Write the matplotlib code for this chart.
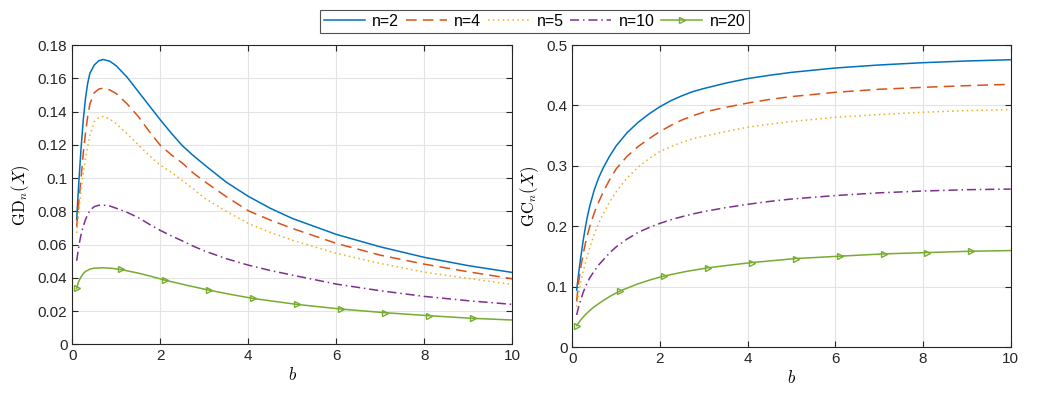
import numpy as np
import matplotlib
matplotlib.use('Agg')
import matplotlib.pyplot as plt
from matplotlib.ticker import FormatStrFormatter

plt.rcParams['font.family'] = ['Liberation Sans', 'DejaVu Sans']
plt.rcParams['mathtext.fontset'] = 'cm'

# b values
b = [0.1, 0.125, 0.15, 0.175, 0.2, 0.25, 0.3, 0.35, 0.4, 0.5, 0.6, 0.7, 0.85, 1.0, 1.25, 1.5, 1.75,
     2, 2.25, 2.5, 2.75, 3, 3.5, 4, 4.5, 5, 6, 7, 8, 9, 10]
b20 = [0.1, 0.125, 0.15, 0.2, 0.25, 0.3, 0.4, 0.5, 0.7, 0.9, 1.1, 1.5, 1.8, 2.1, 2.6, 3.1, 3.6, 4.1,
       5.1, 6.1, 7.1, 8.1, 9.1, 10]

# left panel: GD_n(X)
gd_n2 = [0.075, 0.087, 0.098, 0.108, 0.118, 0.135, 0.148, 0.157, 0.163, 0.168, 0.1705, 0.1713, 0.1703,
         0.1675, 0.1605, 0.152, 0.1435, 0.135, 0.127, 0.1195, 0.1135, 0.108, 0.0975, 0.089, 0.0818,
         0.0757, 0.0661, 0.0586, 0.0523, 0.0473, 0.0432]
gd_n4 = [0.0707, 0.078, 0.086, 0.093, 0.100, 0.115, 0.127, 0.137, 0.1445, 0.1513, 0.1535, 0.154, 0.153,
         0.1508, 0.1445, 0.137, 0.128, 0.1197, 0.114, 0.109, 0.103, 0.098, 0.0888, 0.0803, 0.0747,
         0.0697, 0.0607, 0.0536, 0.0482, 0.0436, 0.0394]
gd_n5 = [0.067, 0.0735, 0.080, 0.0865, 0.093, 0.103, 0.112, 0.119, 0.1257, 0.134, 0.1363, 0.137, 0.1355,
         0.1327, 0.1265, 0.120, 0.1135, 0.1077, 0.1035, 0.0985, 0.0935, 0.088, 0.080, 0.0727, 0.0673,
         0.0626, 0.0547, 0.0486, 0.0434, 0.0396, 0.036]
gd_n10 = [0.0502, 0.0548, 0.059, 0.0628, 0.066, 0.071, 0.075, 0.078, 0.0805, 0.0828, 0.0836, 0.0837, 0.0832,
          0.0818, 0.0793, 0.0762, 0.0722, 0.0685, 0.0652, 0.0622, 0.059, 0.0562, 0.0515, 0.0476, 0.0444,
          0.0416, 0.0362, 0.0322, 0.0288, 0.0262, 0.024]
gd_n20 = [0.0336, 0.0362, 0.038, 0.0406, 0.0425, 0.0438, 0.0452, 0.0458, 0.046, 0.0457, 0.045, 0.0428,
          0.0408, 0.0386, 0.0355, 0.0326, 0.030, 0.0276, 0.024, 0.0212, 0.019, 0.0172, 0.0156, 0.0146]

# right panel: GC_n(X)
gc_n2 = [0.0945, 0.110, 0.125, 0.139, 0.152, 0.177, 0.199, 0.218, 0.234, 0.260, 0.280, 0.296, 0.316,
         0.333, 0.355, 0.372, 0.386, 0.398, 0.408, 0.416, 0.423, 0.428, 0.437, 0.4445, 0.450,
         0.4548, 0.462, 0.467, 0.4708, 0.4736, 0.4757]
gc_n4 = [0.076, 0.094, 0.110, 0.123, 0.135, 0.155, 0.172, 0.187, 0.200, 0.222, 0.240, 0.256, 0.277,
         0.295, 0.316, 0.332, 0.345, 0.357, 0.367, 0.376, 0.383, 0.389, 0.397, 0.404, 0.410,
         0.4147, 0.4218, 0.4268, 0.430, 0.4328, 0.435]
gc_n5 = [0.067, 0.079, 0.090, 0.100, 0.110, 0.126, 0.140, 0.153, 0.165, 0.187, 0.205, 0.220, 0.240,
         0.257, 0.280, 0.298, 0.312, 0.324, 0.332, 0.339, 0.345, 0.349, 0.357, 0.364, 0.369,
         0.3734, 0.3805, 0.385, 0.3888, 0.3916, 0.3932]
gc_n10 = [0.0534, 0.061, 0.068, 0.074, 0.080, 0.091, 0.100, 0.108, 0.115, 0.126, 0.136, 0.144, 0.156,
          0.166, 0.179, 0.190, 0.198, 0.205, 0.211, 0.216, 0.2205, 0.2245, 0.231, 0.2365, 0.2413,
          0.2453, 0.251, 0.2555, 0.2585, 0.2607, 0.2617]
gc_n20 = [0.0358, 0.0385, 0.041, 0.046, 0.050, 0.054, 0.061, 0.067, 0.077, 0.086, 0.0935, 0.105,
          0.112, 0.118, 0.1255, 0.1315, 0.136, 0.1402, 0.1468, 0.1507, 0.1545, 0.1567, 0.1589, 0.160]

labels = ['n=2', 'n=4', 'n=5', 'n=10', 'n=20']
colors = ['#0072BD', '#D95319', '#EDB120', '#7E2F8E', '#77AC30']
marker_b = [0.1, 1.1, 2.1, 3.1, 4.1, 5.1, 6.1, 7.1, 8.1, 9.1]
marks = [i for i, v in enumerate(b20) if any(abs(v - m) < 1e-9 for m in marker_b)]

fig = plt.figure(figsize=(10.46, 3.95), dpi=100)
ax1 = fig.add_axes([0.0691, 0.1284, 0.4207, 0.7576])
ax2 = fig.add_axes([0.5471, 0.1208, 0.4192, 0.7652])


def draw(ax, ys, y20):
    lines = []
    lines += ax.plot(b, ys[0], '-', color=colors[0], lw=1.1)
    lines += ax.plot(b, ys[1], color=colors[1], lw=1.1, dashes=(7, 4))
    lines += ax.plot(b, ys[2], color=colors[2], lw=1.1, dashes=(1, 2.2))
    lines += ax.plot(b, ys[3], color=colors[3], lw=1.1, dashes=(6, 2.5, 1, 2.5))
    lines += ax.plot(b20, y20, '-', color=colors[4], lw=1.1, marker='>', markevery=marks,
                     markersize=5, markerfacecolor='none', markeredgewidth=1.0)
    ax.set_xlim(0, 10)
    ax.set_xticks([0, 2, 4, 6, 8, 10])
    ax.grid(True, color='#e3e3e3', lw=0.8)
    ax.set_axisbelow(True)
    ax.tick_params(direction='in', top=True, right=True, labelsize=11, colors='#262626', length=4)
    for s in ax.spines.values():
        s.set_color('#262626')
        s.set_linewidth(0.8)
    ax.set_xlabel(r'$b$', fontsize=12, labelpad=2)
    return lines


lines = draw(ax1, [gd_n2, gd_n4, gd_n5, gd_n10], gd_n20)
ax1.set_ylim(0, 0.18)
ax1.set_yticks(np.arange(0, 0.1801, 0.02))
ax1.yaxis.set_major_formatter(FormatStrFormatter('%g'))
ax1.set_ylabel(r'$\mathrm{GD}_n(X)$', fontsize=12, labelpad=4)

draw(ax2, [gc_n2, gc_n4, gc_n5, gc_n10], gc_n20)
ax2.set_ylim(0, 0.5)
ax2.set_yticks(np.arange(0, 0.501, 0.1))
ax2.yaxis.set_major_formatter(FormatStrFormatter('%g'))
ax2.set_ylabel(r'$\mathrm{GC}_n(X)$', fontsize=12, labelpad=4)

leg = fig.legend(lines, labels, ncol=5, loc='upper center', bbox_to_anchor=(0.511, 0.995),
                 fontsize=11.5, frameon=True, fancybox=False, edgecolor='#262626',
                 handlelength=2.6, columnspacing=0.4, handletextpad=0.45, borderpad=0.25)
leg.get_frame().set_linewidth(0.8)

fig.savefig('out.png', dpi=100)
